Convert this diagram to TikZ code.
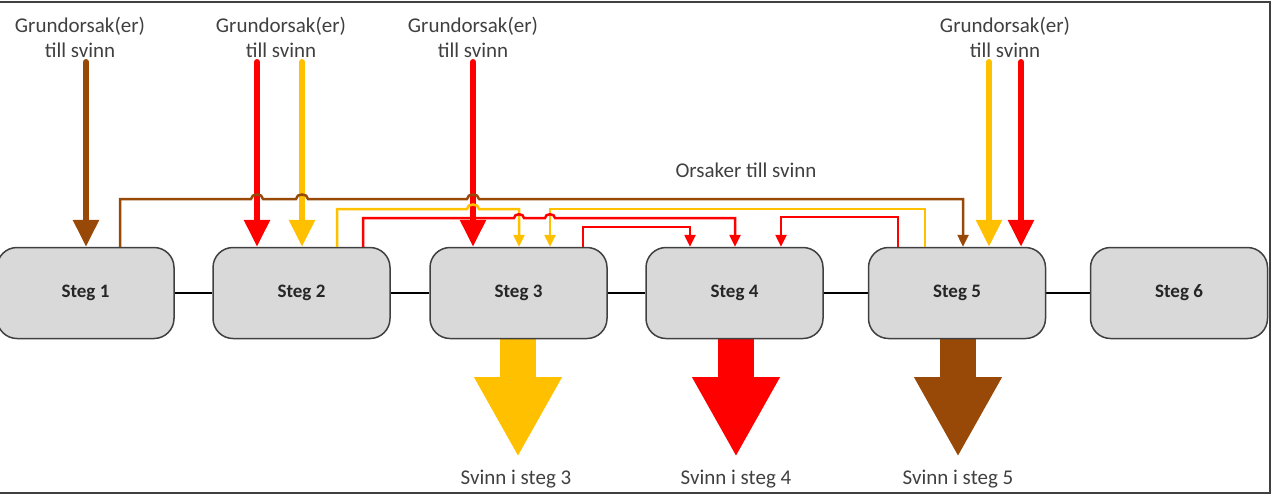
\documentclass[tikz,border=0pt]{standalone}
\usepackage{fontspec}
\setmainfont{Carlito}
\usetikzlibrary{arrows.meta,calc,backgrounds}
\definecolor{cbrown}{HTML}{984807}
\definecolor{cyellow}{HTML}{FFC000}
\definecolor{cred}{HTML}{FF0000}
\definecolor{boxfill}{HTML}{D9D9D9}
\definecolor{boxline}{HTML}{404040}
\definecolor{txt}{HTML}{404040}
\definecolor{steptxt}{HTML}{262626}
\begin{document}
\begin{tikzpicture}[x=1pt,y=-1pt,
  stepbox/.style={draw=boxline, fill=boxfill, line width=1.5pt, rounded corners=20pt,
    minimum width=177pt, minimum height=91pt, font=\fontsize{19}{21}\selectfont\bfseries,
    text=steptxt, inner sep=0pt},
  lbl/.style={font=\fontsize{21}{25}\selectfont, text=txt, align=center, inner sep=0pt},
  thickarrow/.style={line width=6pt, line cap=round, -{Triangle[width=25pt,length=27pt]}},
  thinarrow/.style={line width=2.5pt, -{Triangle[width=11pt,length=12pt]}},
  bigarrow/.style={line width=36pt, -{Triangle[width=82pt,length=80pt]}},
  link/.style={line width=1.2pt, draw=black}
]
\useasboundingbox (0,0) rectangle (1273,496);

% frame
\draw[line width=2.5pt, draw=black!75] (-10,2) -- (1270,2) -- (1270,493) -- (-10,493);

% steps
\node[stepbox] (s1) at (85.5,293) {Steg 1};
\node[stepbox] (s2) at (301.5,293) {Steg 2};
\node[stepbox] (s3) at (518.5,293) {Steg 3};
\node[stepbox] (s4) at (734.5,293) {Steg 4};
\node[stepbox] (s5) at (957,293) {Steg 5};
\node[stepbox] (s6) at (1179,293) {Steg 6};

\begin{scope}[on background layer]
\draw[link] (s1) -- (s2);
\draw[link] (s2) -- (s3);
\draw[link] (s3) -- (s4);
\draw[link] (s4) -- (s5);
\draw[link] (s5) -- (s6);
\draw[bigarrow, cyellow] (s3.south -| 518,0) -- (518,457) coordinate (t3);
\draw[bigarrow, cred] (s4.south -| 736,0) -- (736,457) coordinate (t4);
\draw[bigarrow, cbrown] (s5.south -| 958,0) -- (958,457) coordinate (t5);
\end{scope}

% labels
\node[lbl] (g1) at (80,37) {Grundorsak(er)\\till svinn};
\node[lbl] (g2) at (281,37) {Grundorsak(er)\\till svinn};
\node[lbl] (g3) at (473,37) {Grundorsak(er)\\till svinn};
\node[lbl] (g4) at (1005,37) {Grundorsak(er)\\till svinn};
\node[lbl, anchor=base] (os) at (746,177) {Orsaker till svinn};
\node[lbl, anchor=base] (l3) at (516,484) {Svinn i steg 3};
\node[lbl, anchor=base] (l4) at (736,484) {Svinn i steg 4};
\node[lbl, anchor=base] (l5) at (958,484) {Svinn i steg 5};

% thick root-cause arrows
\coordinate (a1) at (86,62);
\coordinate (a2) at (257,62);
\coordinate (a3) at (302,62);
\coordinate (a4) at (473,62);
\coordinate (a5) at (989,62);
\coordinate (a6) at (1021,62);
\draw[thickarrow, cbrown] (a1) -- (a1 |- s1.north);
\draw[thickarrow, cred] (a2) -- (a2 |- s2.north);
\draw[thickarrow, cyellow] (a3) -- (a3 |- s2.north);
\draw[thickarrow, cred] (a4) -- (a4 |- s3.north);
\draw[thickarrow, cyellow] (a5) -- (a5 |- s5.north);
\draw[thickarrow, cred] (a6) -- (a6 |- s5.north);

% thin cause connectors
\draw[thinarrow, cbrown] (s1.north -| 120,0) -- (120,199) -- (251,199)
  .. controls (251,193) and (263,193) .. (263,199) -- (296,199)
  .. controls (296,193) and (308,193) .. (308,199) -- (467,199)
  .. controls (467,193) and (479,193) .. (479,199) -- (963,199) -- (s5.north -| 963,0);

\draw[thinarrow, cyellow] (s2.north -| 337,0) -- (337,209) -- (467,209)
  .. controls (467,203) and (479,203) .. (479,209) -- (519,209) -- (s3.north -| 519,0);
\draw[thinarrow, cyellow] (s5.north -| 925,0) -- (925,209) -- (550,209) -- (s3.north -| 550,0);

\draw[thinarrow, cred] (s2.north -| 363,0) -- (363,218) -- (514,218)
  .. controls (514,213) and (524,213) .. (524,218) -- (545,218)
  .. controls (545,213) and (555,213) .. (555,218) -- (735,218) -- (s4.north -| 735,0);
\draw[thinarrow, cred] (s3.north -| 583,0) -- (583,227) -- (690,227) -- (s4.north -| 690,0);
\draw[thinarrow, cred] (s5.north -| 898,0) -- (898,217) -- (781,217) -- (s4.north -| 781,0);
\end{tikzpicture}
\end{document}
